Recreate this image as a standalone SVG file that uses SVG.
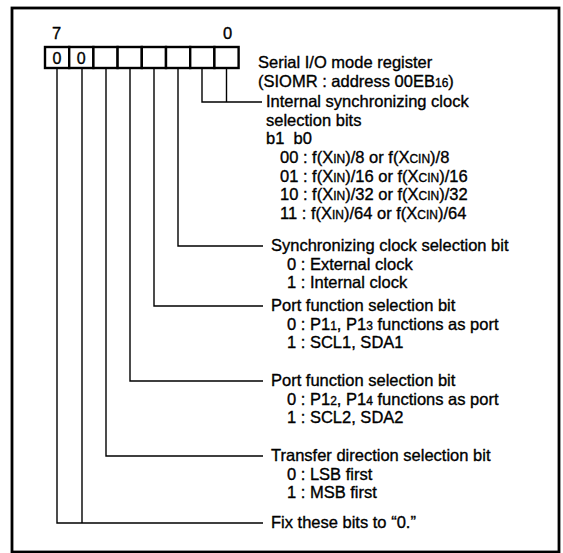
<svg xmlns="http://www.w3.org/2000/svg" width="563" height="553" viewBox="0 0 563 553">
<style>
text{font-family:"Liberation Sans",Arial,sans-serif;font-size:16.5px;fill:#000;stroke:#000;stroke-width:0.35}
.s{font-size:12px}
.bit{fill:#fff;stroke:#000;stroke-width:2.4}
.c{fill:none;stroke:#000;stroke-width:1.4}
</style>
<rect x="0" y="0" width="563" height="553" fill="#fff"/>
<rect x="12" y="8" width="547" height="544" fill="none" stroke="#000" stroke-width="2.8"/>
<g id="register">
<text x="52" y="39">7</text>
<text x="223" y="39">0</text>
<rect class="bit" x="45" y="47" width="24.2" height="21"/>
<rect class="bit" x="69.2" y="47" width="24.2" height="21"/>
<rect class="bit" x="93.4" y="47" width="24.2" height="21"/>
<rect class="bit" x="117.6" y="47" width="24.2" height="21"/>
<rect class="bit" x="141.8" y="47" width="24.2" height="21"/>
<rect class="bit" x="166" y="47" width="24.2" height="21"/>
<rect class="bit" x="190.2" y="47" width="24.2" height="21"/>
<rect class="bit" x="214.4" y="47" width="24.2" height="21"/>
<text x="52.5" y="64" style="font-size:16px">0</text>
<text x="76.7" y="64" style="font-size:16px">0</text>
<text x="258" y="68">Serial I/O mode register</text>
<text x="258" y="87">(SIOMR : address 00EB<tspan class="s">16</tspan>)</text>
</g>
<g id="connectors">
<path class="c" d="M202 68V102H262M226.5 68V102"/>
<path class="c" d="M178 68V246H263"/>
<path class="c" d="M154 68V306H263"/>
<path class="c" d="M130 68V381H263"/>
<path class="c" d="M106 68V456H263"/>
<path class="c" d="M57 68V523H263M82 68V523"/>
</g>
<g id="n-b1b0">
<text x="266" y="107">Internal synchronizing clock</text>
<text x="266" y="126">selection bits</text>
<text x="266" y="144" xml:space="preserve">b1  b0</text>
<text x="280" y="163">00 : f(X<tspan class="s">IN</tspan>)/8 or f(X<tspan class="s">CIN</tspan>)/8</text>
<text x="280" y="182">01 : f(X<tspan class="s">IN</tspan>)/16 or f(X<tspan class="s">CIN</tspan>)/16</text>
<text x="280" y="200">10 : f(X<tspan class="s">IN</tspan>)/32 or f(X<tspan class="s">CIN</tspan>)/32</text>
<text x="280" y="219">11 : f(X<tspan class="s">IN</tspan>)/64 or f(X<tspan class="s">CIN</tspan>)/64</text>
</g>
<g id="n-b2">
<text x="271" y="251">Synchronizing clock selection bit</text>
<text x="287" y="270">0 : External clock</text>
<text x="287" y="288">1 : Internal clock</text>
</g>
<g id="n-b3">
<text x="271" y="311">Port function selection bit</text>
<text x="287" y="330">0 : P1<tspan class="s">1</tspan>, P1<tspan class="s">3</tspan> functions as port</text>
<text x="287" y="348">1 : SCL1, SDA1</text>
</g>
<g id="n-b4">
<text x="271" y="386">Port function selection bit</text>
<text x="287" y="405">0 : P1<tspan class="s">2</tspan>, P1<tspan class="s">4</tspan> functions as port</text>
<text x="287" y="423">1 : SCL2, SDA2</text>
</g>
<g id="n-b5">
<text x="271" y="461">Transfer direction selection bit</text>
<text x="287" y="480">0 : LSB first</text>
<text x="287" y="498">1 : MSB first</text>
</g>
<g id="n-b67">
<text x="271" y="528">Fix these bits to “0.”</text>
</g>
</svg>
